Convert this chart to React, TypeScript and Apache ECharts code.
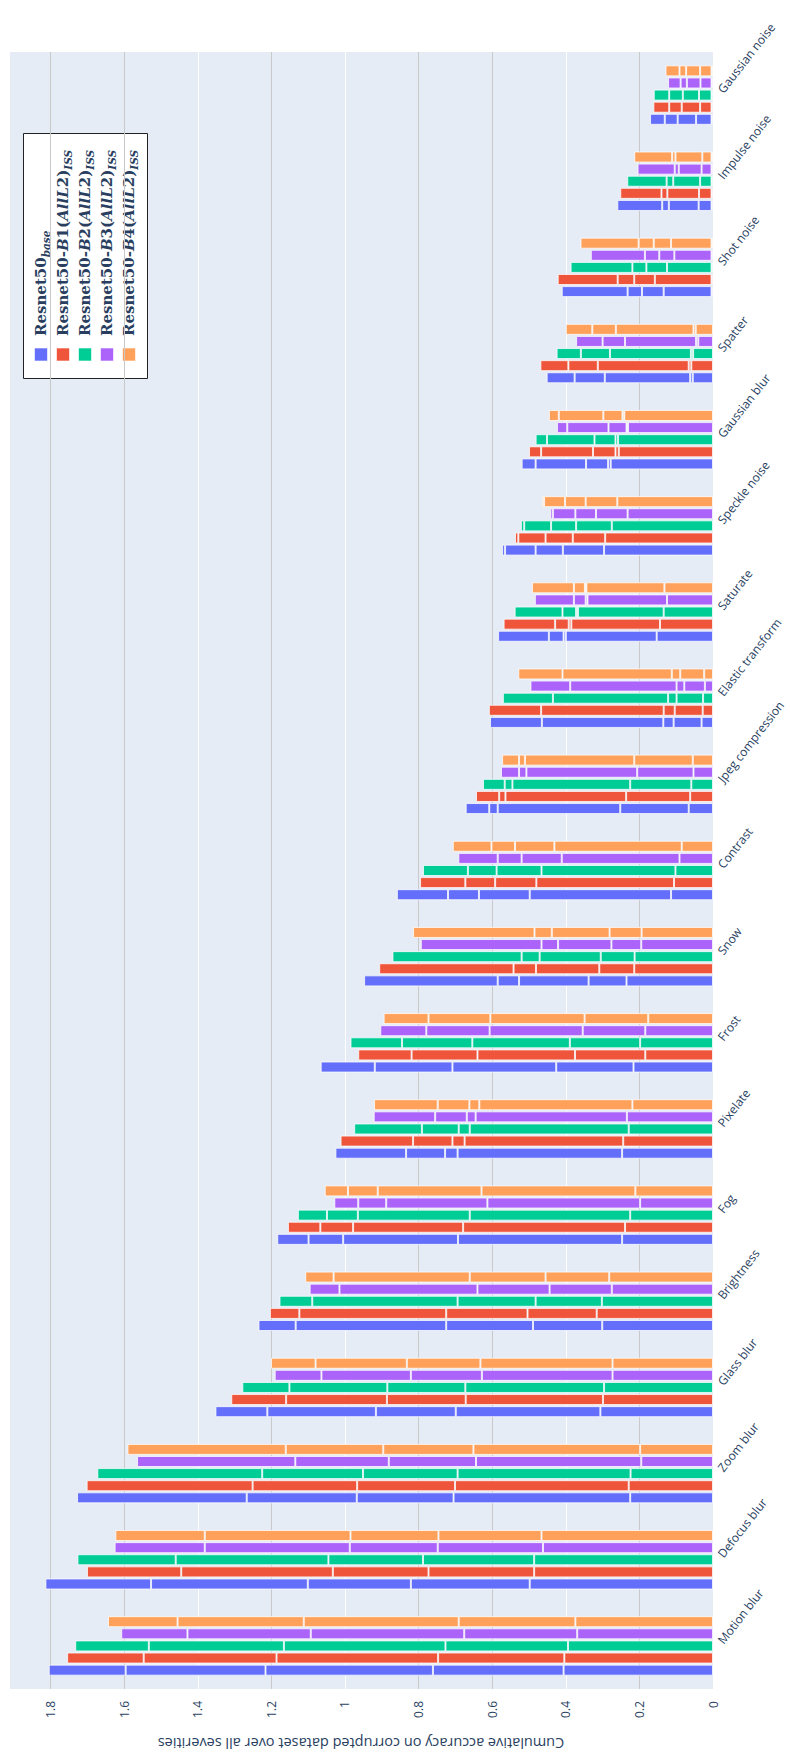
import React, { useEffect, useRef } from "react";
import * as echarts from "echarts";

// categories from bottom (Motion blur) to top (Gaussian noise)
const categories = [
  "Motion blur", "Defocus blur", "Zoom blur", "Glass blur", "Brightness", "Fog",
  "Pixelate", "Frost", "Snow", "Contrast", "Jpeg compression", "Elastic transform",
  "Saturate", "Speckle noise", "Gaussian blur", "Spatter", "Shot noise",
  "Impulse noise", "Gaussian noise",
];

const modelColors = ["#636efa", "#EF553B", "#00cc96", "#ab63fa", "#FFA15A"];

const xTicks = [0, 0.2, 0.4, 0.6, 0.8, 1, 1.2, 1.4, 1.6, 1.8];
const axisTitle = "Cumulative accuracy on corrupted dataset over all severities";

// cumulative accuracy boundaries over the 5 severities, per category
const baseCum = [
  [0.406, 0.761, 1.216, 1.596, 1.805], [0.498, 0.821, 1.101, 1.527, 1.814],
  [0.225, 0.705, 0.968, 1.267, 1.728], [0.306, 0.699, 0.916, 1.211, 1.352],
  [0.301, 0.489, 0.725, 1.134, 1.235], [0.247, 0.693, 1.005, 1.099, 1.184],
  [0.247, 0.694, 0.728, 0.834, 1.026], [0.216, 0.426, 0.708, 0.919, 1.066],
  [0.235, 0.338, 0.527, 0.585, 0.948], [0.114, 0.498, 0.636, 0.72, 0.859],
  [0.066, 0.252, 0.585, 0.608, 0.672], [0.031, 0.107, 0.135, 0.465, 0.606],
  [0.153, 0.4, 0.406, 0.446, 0.584], [0.296, 0.408, 0.482, 0.565, 0.573],
  [0.278, 0.285, 0.345, 0.482, 0.52], [0.055, 0.062, 0.294, 0.376, 0.452],
  [0.004, 0.134, 0.193, 0.232, 0.411], [0.004, 0.039, 0.12, 0.138, 0.26],
  [0.004, 0.046, 0.096, 0.131, 0.171],
];
const b1Cum = [
  [0.404, 0.747, 1.186, 1.547, 1.755], [0.486, 0.773, 1.033, 1.445, 1.701],
  [0.229, 0.701, 0.967, 1.251, 1.702], [0.299, 0.672, 0.886, 1.16, 1.309],
  [0.316, 0.504, 0.725, 1.124, 1.204], [0.239, 0.679, 0.978, 1.067, 1.155],
  [0.244, 0.675, 0.708, 0.815, 1.012], [0.184, 0.375, 0.64, 0.819, 0.964],
  [0.214, 0.309, 0.481, 0.542, 0.907], [0.106, 0.48, 0.592, 0.673, 0.796],
  [0.062, 0.236, 0.564, 0.581, 0.644], [0.028, 0.104, 0.134, 0.467, 0.609],
  [0.144, 0.385, 0.392, 0.429, 0.569], [0.293, 0.381, 0.455, 0.529, 0.538],
  [0.256, 0.265, 0.326, 0.467, 0.5], [0.059, 0.066, 0.313, 0.393, 0.469],
  [0.004, 0.158, 0.214, 0.259, 0.422], [0.004, 0.038, 0.124, 0.14, 0.252],
  [0.004, 0.035, 0.085, 0.119, 0.162],
];
const b2Cum = [
  [0.394, 0.727, 1.166, 1.533, 1.733], [0.486, 0.788, 1.045, 1.46, 1.727],
  [0.224, 0.694, 0.951, 1.225, 1.673], [0.296, 0.673, 0.885, 1.151, 1.279],
  [0.302, 0.482, 0.694, 1.089, 1.178], [0.225, 0.661, 0.965, 1.049, 1.128],
  [0.229, 0.661, 0.691, 0.791, 0.975], [0.198, 0.389, 0.654, 0.845, 0.985],
  [0.213, 0.305, 0.471, 0.52, 0.871], [0.102, 0.466, 0.588, 0.666, 0.788],
  [0.059, 0.225, 0.545, 0.566, 0.625], [0.027, 0.099, 0.122, 0.435, 0.571],
  [0.134, 0.367, 0.372, 0.409, 0.539], [0.275, 0.372, 0.44, 0.513, 0.522],
  [0.258, 0.265, 0.322, 0.451, 0.482], [0.054, 0.06, 0.28, 0.359, 0.425],
  [0.004, 0.125, 0.181, 0.219, 0.387], [0.004, 0.035, 0.108, 0.126, 0.233],
  [0.004, 0.038, 0.082, 0.119, 0.161],
];
const b3Cum = [
  [0.369, 0.676, 1.093, 1.428, 1.608], [0.462, 0.748, 0.987, 1.381, 1.626],
  [0.195, 0.644, 0.881, 1.135, 1.565], [0.273, 0.628, 0.821, 1.064, 1.191],
  [0.275, 0.444, 0.64, 1.015, 1.096], [0.198, 0.613, 0.888, 0.964, 1.029],
  [0.234, 0.645, 0.669, 0.755, 0.922], [0.184, 0.354, 0.607, 0.779, 0.904],
  [0.195, 0.276, 0.421, 0.466, 0.794], [0.091, 0.411, 0.52, 0.585, 0.692],
  [0.053, 0.206, 0.507, 0.527, 0.576], [0.022, 0.078, 0.099, 0.388, 0.496],
  [0.125, 0.341, 0.346, 0.378, 0.484], [0.232, 0.318, 0.374, 0.435, 0.442],
  [0.231, 0.235, 0.284, 0.396, 0.424], [0.04, 0.046, 0.239, 0.3, 0.372],
  [0.004, 0.105, 0.146, 0.185, 0.332], [0.004, 0.031, 0.093, 0.104, 0.205],
  [0.004, 0.034, 0.071, 0.088, 0.122],
];
const b4Cum = [
  [0.374, 0.691, 1.112, 1.455, 1.644], [0.466, 0.746, 0.985, 1.381, 1.624],
  [0.198, 0.651, 0.896, 1.161, 1.591], [0.273, 0.632, 0.832, 1.08, 1.201],
  [0.282, 0.455, 0.661, 1.031, 1.108], [0.211, 0.629, 0.911, 0.992, 1.055],
  [0.219, 0.635, 0.662, 0.748, 0.921], [0.176, 0.349, 0.605, 0.773, 0.895],
  [0.194, 0.281, 0.438, 0.485, 0.815], [0.085, 0.431, 0.538, 0.602, 0.707],
  [0.055, 0.214, 0.511, 0.527, 0.573], [0.024, 0.089, 0.112, 0.409, 0.529],
  [0.132, 0.344, 0.348, 0.378, 0.492], [0.26, 0.346, 0.402, 0.459, 0.464],
  [0.241, 0.246, 0.298, 0.419, 0.446], [0.047, 0.053, 0.264, 0.328, 0.4],
  [0.004, 0.114, 0.161, 0.202, 0.36], [0.004, 0.029, 0.102, 0.111, 0.214],
  [0.004, 0.035, 0.073, 0.091, 0.129],
];

const modelCums = [baseCum, b1Cum, b2Cum, b3Cum, b4Cum];
const modelIds = ["Resnet50_base", "Resnet50-B1(AllL2)ISS", "Resnet50-B2(AllL2)ISS", "Resnet50-B3(AllL2)ISS", "Resnet50-B4(AllL2)ISS"];
const legendRich = [
  "{n|Resnet50}{s|base}",
  "{n|Resnet50-}{i|B}{n|1(}{i|AllL}{n|2)}{s|ISS}",
  "{n|Resnet50-}{i|B}{n|2(}{i|AllL}{n|2)}{s|ISS}",
  "{n|Resnet50-}{i|B}{n|3(}{i|AllL}{n|2)}{s|ISS}",
  "{n|Resnet50-}{i|B}{n|4(}{i|AllL}{n|2)}{s|ISS}",
];

const gridLineColors = ["#ffffff", "#c9c9c9", "#ffffff", "#c9c9c9", "#c9c9c9", "#ffffff", "#c9c9c9", "#ffffff", "#c9c9c9", "#c9c9c9", "#ffffff"];

export default function App() {
  const ref = useRef<HTMLDivElement>(null);
  useEffect(() => {
    const chart = echarts.init(ref.current as HTMLDivElement, null, { renderer: "svg" });
    const series: any[] = [];
    // within each group the first series is drawn on top, so add the last model first
    for (let m = modelCums.length - 1; m >= 0; m--) {
      const cum = modelCums[m];
      for (let k = 0; k < 5; k++) {
        series.push({
          type: "bar",
          name: modelIds[m] + " sev" + (k + 1),
          stack: "m" + m,
          barCategoryGap: "31%",
          barGap: "10%",
          data: cum.map((c) => +(c[k] - (k > 0 ? c[k - 1] : 0)).toFixed(4)),
          itemStyle: { color: modelColors[m], borderColor: "rgba(255,255,255,0.75)", borderWidth: 1 },
        });
      }
    }

    const legendChildren: any[] = [
      { type: "rect", shape: { x: 23.5, y: 133.5, width: 124, height: 245 }, style: { fill: "#ffffff", stroke: "#222", lineWidth: 1 } },
    ];
    const colX = [41, 63, 85, 107, 129];
    const serif = "DejaVu Serif";
    colX.forEach((x, i) => {
      legendChildren.push({
        type: "rect",
        shape: { x: x - 6.5, y: 348, width: 13, height: 13 },
        style: { fill: modelColors[i], stroke: "rgba(255,255,255,0.6)", lineWidth: 1 },
      });
      legendChildren.push({
        type: "text",
        x: x,
        y: 336,
        rotation: Math.PI / 2,
        style: {
          text: legendRich[i],
          textAlign: "left",
          textVerticalAlign: "middle",
          rich: {
            n: { fontFamily: serif, fontSize: 15, fontWeight: "bold", fill: "#2a3f5f", lineHeight: 21 },
            i: { fontFamily: serif, fontSize: 15, fontWeight: "bold", fontStyle: "italic", fill: "#2a3f5f", lineHeight: 21 },
            s: { fontFamily: serif, fontSize: 10.5, fontWeight: "bold", fontStyle: "italic", fill: "#2a3f5f", lineHeight: 21, verticalAlign: "bottom", padding: [8, 0, 0, 0] },
          },
        },
      });
    });

    chart.setOption({
      animation: false,
      backgroundColor: "#ffffff",
      grid: {
        left: 9, right: 77, top: 52, bottom: 67,
        outerBoundsMode: "none",
        containLabel: false,
        show: true, backgroundColor: "#E5ECF6", borderWidth: 0,
      },
      xAxis: {
        type: "value",
        inverse: true,
        min: 0,
        max: 1.913,
        interval: 0.2,
        name: axisTitle,
        nameLocation: "middle",
        nameRotate: 180,
        nameGap: 47,
        nameTextStyle: { fontFamily: "Open Sans", fontSize: 14.5, color: "#2a3f5f" },
        axisLine: { show: false },
        axisTick: { show: false },
        axisLabel: {
          rotate: 90,
          margin: 12,
          fontFamily: "Open Sans",
          fontSize: 12,
          color: "#2a3f5f",
          showMaxLabel: false,
          formatter: (v: number) => (xTicks.some((t) => Math.abs(t - v) < 1e-6) ? String(+v.toFixed(1)) : ""),
        },
        splitLine: { show: true, lineStyle: { color: gridLineColors, width: 1 } },
      },
      yAxis: {
        type: "category",
        position: "right",
        data: categories,
        axisLine: { show: false },
        axisTick: { show: false },
        axisLabel: { rotate: 52, margin: 12, verticalAlign: "bottom", fontFamily: "Open Sans", fontSize: 12, color: "#2a3f5f" },
        splitLine: { show: false },
      },
      series,
      graphic: [{ type: "group", children: legendChildren }],
    });
    return () => chart.dispose();
  }, []);
  return <div ref={ref} style={{ position: "absolute", left: 0, top: 0, width: 790, height: 1756 }} />;
}
